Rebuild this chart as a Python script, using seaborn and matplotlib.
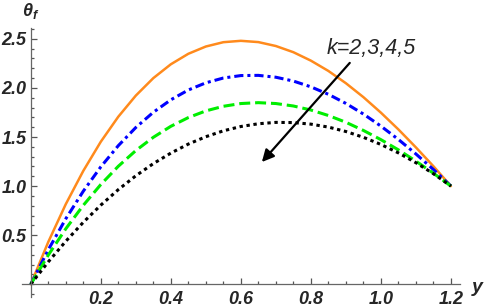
import numpy as np
import pandas as pd
import matplotlib
matplotlib.use('Agg')
import matplotlib.pyplot as plt
import seaborn as sns
from matplotlib.ticker import MultipleLocator, FixedLocator, FormatStrFormatter

# values (theta_f against y, for k = 2..5)
y_vals = [0.0, 0.05, 0.1, 0.15, 0.2, 0.25, 0.3, 0.35, 0.4, 0.45, 0.5, 0.55, 0.6,
          0.65, 0.7, 0.75, 0.8, 0.85, 0.9, 0.95, 1.0, 1.05, 1.1, 1.15, 1.2]
theta_k2 = [0.0, 0.431, 0.816, 1.155, 1.452, 1.707, 1.922, 2.100, 2.241, 2.348, 2.422, 2.466, 2.480,
            2.467, 2.427, 2.364, 2.278, 2.173, 2.048, 1.906, 1.748, 1.577, 1.394, 1.202, 1.0]
theta_k3 = [0.0, 0.351, 0.667, 0.948, 1.196, 1.412, 1.597, 1.752, 1.879, 1.979, 2.052, 2.101, 2.126,
            2.128, 2.109, 2.070, 2.011, 1.935, 1.842, 1.734, 1.611, 1.475, 1.327, 1.169, 1.0]
theta_k4 = [0.0, 0.297, 0.565, 0.804, 1.016, 1.202, 1.362, 1.497, 1.609, 1.698, 1.766, 1.813, 1.841,
            1.850, 1.841, 1.816, 1.775, 1.719, 1.650, 1.567, 1.473, 1.369, 1.254, 1.131, 1.0]
theta_k5 = [0.0, 0.228, 0.438, 0.631, 0.806, 0.964, 1.105, 1.229, 1.336, 1.428, 1.503, 1.563, 1.607,
            1.635, 1.649, 1.647, 1.631, 1.601, 1.556, 1.497, 1.424, 1.338, 1.238, 1.126, 1.0]

x_ticks = [0.2, 0.4, 0.6, 0.8, 1.0, 1.2]
y_ticks = [0.5, 1.0, 1.5, 2.0, 2.5]

sns.set_style('ticks')
plt.rcParams['font.family'] = ['Liberation Sans', 'DejaVu Sans']
plt.rcParams['font.weight'] = 'bold'
plt.rcParams['font.style'] = 'italic'
plt.rcParams['mathtext.fontset'] = 'custom'
plt.rcParams['mathtext.it'] = 'Liberation Sans:italic:bold'
plt.rcParams['mathtext.rm'] = 'Liberation Sans:bold'

fig = plt.figure(figsize=(4.84, 3.07), dpi=100)
ax = fig.add_axes([0.0455, 0.0326, 0.905, 0.876])

styles = [
    (theta_k2, '#FF8A1C', '-', 1.8),
    (theta_k3, '#0000FF', (0, (3.0, 1.3, 1.0, 1.3)), 2.2),
    (theta_k4, '#00EE00', (0, (3.6, 1.6)), 2.2),
    (theta_k5, '#000000', (0, (1.1, 1.2)), 2.2),
]
for vals, col, ls, lw in styles:
    df = pd.DataFrame({'y': y_vals, 'theta': vals})
    sns.lineplot(data=df, x='y', y='theta', color=col, linestyle=ls,
                 linewidth=lw, ax=ax, legend=False)

ax.set_xlim(-0.025, 1.226)
ax.set_ylim(-0.13, 2.61)
for s in ['top', 'right']:
    ax.spines[s].set_visible(False)
for s in ['left', 'bottom']:
    ax.spines[s].set_position(('data', 0))
    ax.spines[s].set_color('#666666')
    ax.spines[s].set_linewidth(0.9)

ax.xaxis.set_major_locator(FixedLocator(x_ticks))
ax.yaxis.set_major_locator(FixedLocator(y_ticks))
ax.xaxis.set_minor_locator(MultipleLocator(0.05))
ax.yaxis.set_minor_locator(MultipleLocator(0.1))
ax.xaxis.set_major_formatter(FormatStrFormatter('%.1f'))
ax.yaxis.set_major_formatter(FormatStrFormatter('%.1f'))
ax.tick_params(which='both', direction='in', color='#555555', width=0.9,
               bottom=True, left=True, labelsize=13)
ax.tick_params(which='major', length=4.5)
ax.tick_params(which='minor', length=2.5)
ax.tick_params(axis='x', which='major', pad=5)
ax.tick_params(axis='y', which='major', pad=3)
ax.set_xlabel('')
ax.set_ylabel('')

# axis labels, Mathematica style
fig.text(31 / 484, 1 - 11 / 307, r'$\theta_f$', fontsize=13, ha='center', va='center')
fig.text(477 / 484, 1 - 287 / 307, 'y', fontsize=14, ha='center', va='center')

# arrow and label for increasing k
ax.annotate('', xy=(0.66, 1.245), xytext=(0.911, 2.255),
            arrowprops=dict(arrowstyle='-|>', color='black', lw=1.6,
                            mutation_scale=18, shrinkA=0, shrinkB=0))
ax.text(0.846, 2.40, 'k=2,3,4,5', fontsize=15.5, fontstyle='italic',
        fontweight='normal', ha='left', va='center')

fig.savefig('out.png', dpi=100)
